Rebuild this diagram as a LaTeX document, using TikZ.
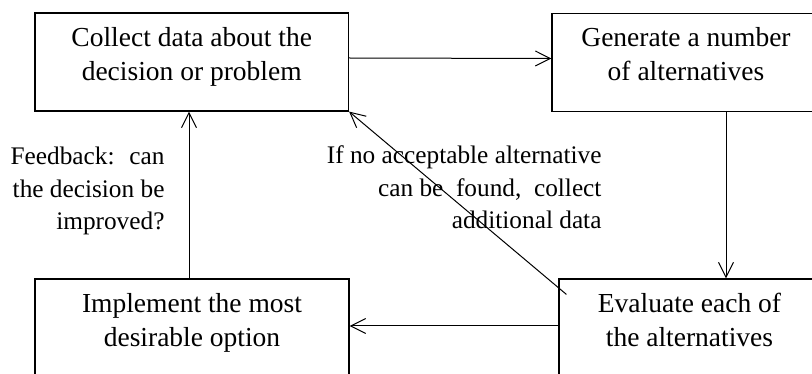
\documentclass[tikz,border=0pt]{standalone}
\usepackage{fontspec}
\setmainfont{Liberation Serif}
\usetikzlibrary{arrows.meta}

\begin{document}
\begin{tikzpicture}[x=1pt, y=-1pt, ->, >={Straight Barb[length=15pt,width=15pt]}, line width=1pt,
	stage node/.style={rectangle, draw, line width=1.2pt, inner sep=0pt, minimum height=98pt, align=center, font=\fontsize{27.5}{34}\selectfont, text height=53pt, text depth=16pt},
	note node/.style={align=right, inner sep=0pt, anchor=base east, font=\fontsize{25.3}{32.5}\selectfont}]
			\useasboundingbox (0,0) rectangle (812,374);
			\node[stage node, minimum width=313.5pt] (C) at (191.75,62) {Collect data about the\\decision or problem};
			\node[stage node, minimum width=268pt] (G) at (686,62.5) {Generate a number\\of alternatives};
			\node[stage node, minimum width=261pt] (E) at (689.5,328) {Evaluate each of\\the alternatives};
			\node[stage node, minimum width=314pt] (I) at (192,328) {Implement the most\\desirable option};
			
			\node[note node] (F) at (165,230) {Feedback:~ can\\the decision be\\improved?};
			\node[note node] (N) at (602,229) {If no acceptable alternative\\can be~ found,~ collect\\additional data};
			
			\draw ([yshift=4pt]C.east) -- ([yshift=4pt]G.west);
			\draw ([xshift=40pt]G.south) -- ([xshift=40pt]G.south |- E.north);
			\draw ([yshift=2pt]E.west) -- ([yshift=2pt]E.west -| I.east);
			\draw ([xshift=-3pt]I.north) -- ([xshift=-3pt]I.north |- C.south);
			\draw ([xshift=8pt,yshift=-16pt]E.north west) -- (C.south east);
		\end{tikzpicture}
\end{document}
